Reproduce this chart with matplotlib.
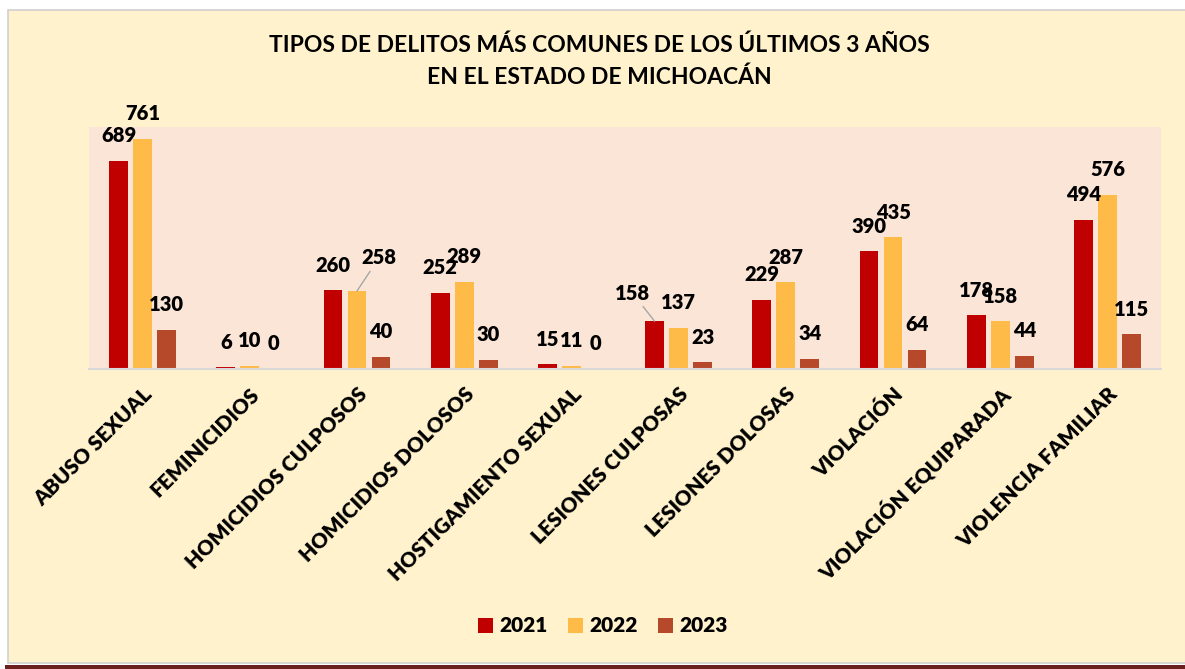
import matplotlib
matplotlib.use('Agg')
import matplotlib.pyplot as plt
import matplotlib.patches as patches
import numpy as np

plt.rcParams['font.family'] = ['Lato', 'DejaVu Sans']
plt.rcParams['font.weight'] = 'bold'

categorias = ['ABUSO SEXUAL', 'FEMINICIDIOS', 'HOMICIDIOS CULPOSOS', 'HOMICIDIOS DOLOSOS',
              'HOSTIGAMIENTO SEXUAL', 'LESIONES CULPOSAS', 'LESIONES DOLOSAS', 'VIOLACIÓN',
              'VIOLACIÓN EQUIPARADA', 'VIOLENCIA FAMILIAR']
anios = ['2021', '2022', '2023']
v2021 = [689, 6, 260, 252, 15, 158, 229, 390, 178, 494]
v2022 = [761, 10, 258, 289, 11, 137, 287, 435, 158, 576]
v2023 = [130, 0, 40, 30, 0, 23, 34, 64, 44, 115]

colores = ['#C00000', '#FFBB47', '#B5492A']
CREMA = '#FFF2CC'
ROSA = '#FBE5D6'

# etiquetas movidas a mano (serie, categoria) -> desplazamiento en px
movidas = {(1, 2): (22, -33), (0, 5): (-22, -28)}

fig = plt.figure(figsize=(11.85, 6.69), dpi=100)
W, H = 1185, 669

# fondo del area del grafico
fig.patches.append(patches.Rectangle((8 / W, 6 / H), 1.0, (663 - 9.5) / H,
                                     transform=fig.transFigure, facecolor=CREMA,
                                     edgecolor='#D0D0D0', linewidth=1.2, zorder=-10))
fig.patches.append(patches.Rectangle((5 / W, 0), 1.0, 4 / H, transform=fig.transFigure,
                                     facecolor='#6B2020', edgecolor='none', zorder=-10))

ax = fig.add_axes([89 / W, (H - 369) / H, (1161 - 89) / W, (369 - 127) / H])
ax.set_facecolor(ROSA)
ax.set_zorder(1)

x = np.arange(len(categorias))
ancho = 0.175
paso = 0.224
series = [v2021, v2022, v2023]
for s, (vals, col, lab) in enumerate(zip(series, colores, anios)):
    pos = x + (s - 1) * paso
    ax.bar(pos, vals, width=ancho, color=col, label=lab, zorder=2)
    for i, v in enumerate(vals):
        dx, dy = movidas.get((s, i), (0, -25))
        flecha = None
        if (s, i) in movidas:
            flecha = dict(arrowstyle='-', color='#A6A6A6', lw=1, shrinkA=1, shrinkB=0)
        ax.annotate(str(v), xy=(pos[i], v), xytext=(dx * 0.72, -dy * 0.72),
                    textcoords='offset points', ha='center', va='center',
                    fontsize=14.5, fontweight='heavy', color='black',
                    arrowprops=flecha, annotation_clip=False)

ax.set_xlim(-0.5, len(categorias) - 0.5)
ax.set_ylim(0, 800)
ax.set_yticks([])
for sp in ['top', 'left', 'right']:
    ax.spines[sp].set_visible(False)
ax.spines['bottom'].set_color('#D9D9D9')
ax.spines['bottom'].set_linewidth(1.5)
ax.spines['bottom'].set_zorder(3)

ax.set_xticks(x)
ax.set_xticklabels(categorias, rotation=45, ha='right', rotation_mode='anchor',
                   fontsize=15, fontweight='heavy')
ax.tick_params(axis='x', length=0, pad=11)

fig.text(0.506, 1 - 45 / H, 'TIPOS DE DELITOS MÁS COMUNES DE LOS ÚLTIMOS 3 AÑOS',
         ha='center', va='center', fontsize=16.5, fontweight='bold')
fig.text(0.506, 1 - 77 / H, 'EN EL ESTADO DE MICHOACÁN',
         ha='center', va='center', fontsize=16.5, fontweight='bold')

fig.legend(loc='center', bbox_to_anchor=(603 / W, 1 - 626 / H), ncol=3, frameon=False,
           handlelength=0.7, handleheight=0.7, handletextpad=0.3,
           columnspacing=1.0, prop={'weight': 'heavy', 'size': 15})

fig.savefig('out.png', dpi=100, facecolor='white')
